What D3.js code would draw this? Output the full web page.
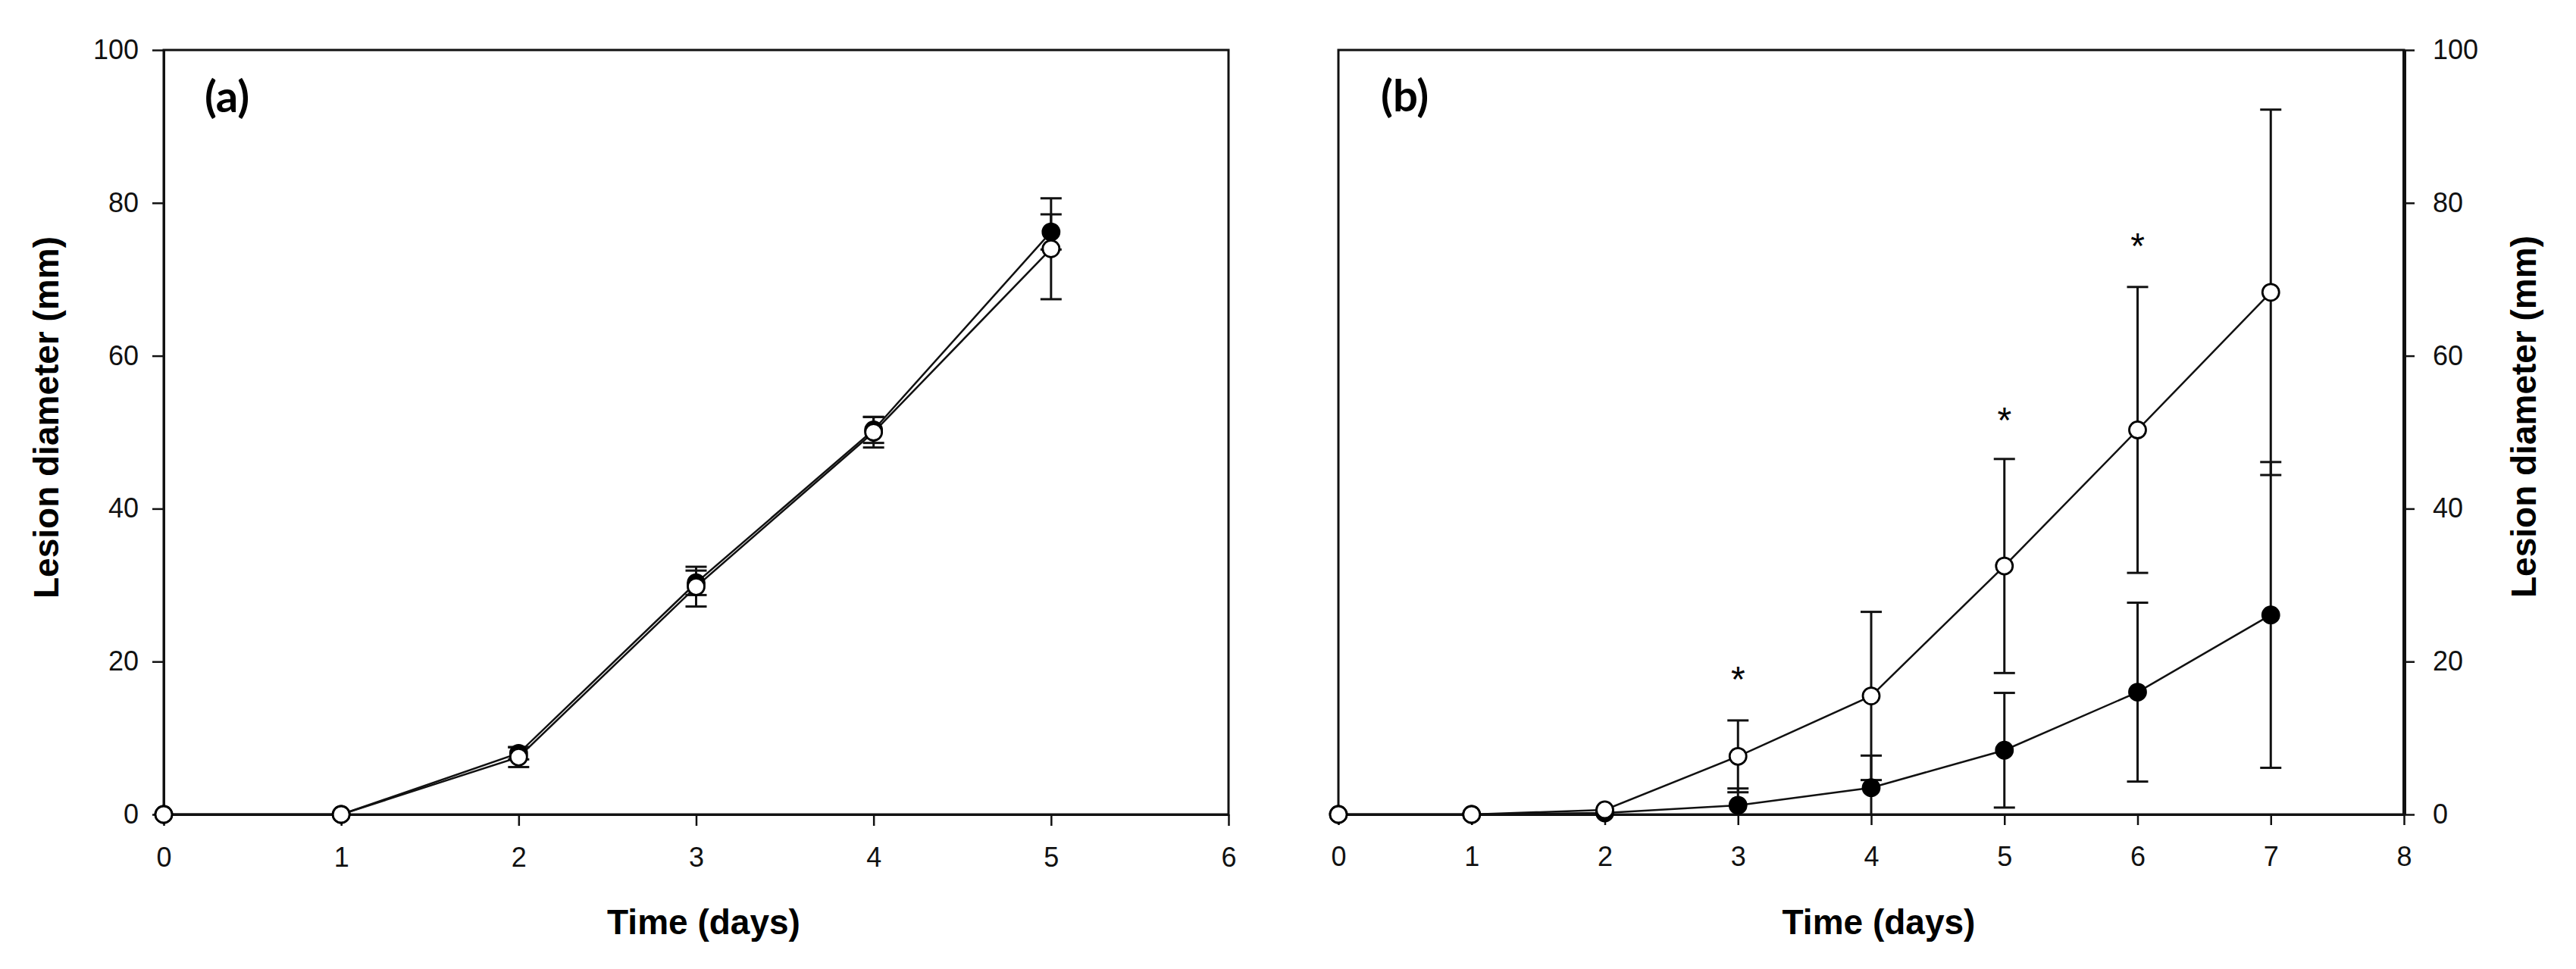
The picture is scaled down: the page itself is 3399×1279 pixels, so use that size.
<!DOCTYPE html>
<html lang="en">
<head>
  <meta charset="UTF-8">
  <title>Lesion diameter</title>
  <script src="https://d3js.org/d3.v7.min.js"></script>
  <style>
    body {
      margin: 0;
      background: #ffffff;
    }
    svg {
      display: block;
    }
    .tick text {
      font-family: 'Liberation Sans', Arial, sans-serif;
      font-size: 36px;
      fill: #111;
    }
    .title {
      font-family: 'Liberation Sans', Arial, sans-serif;
      font-weight: bold;
      font-size: 46px;
      fill: #000;
    }
    .panel-label {
      font-family: Lato, 'Open Sans', sans-serif;
      font-weight: bold;
      font-size: 58px;
      fill: #000;
    }
    .star {
      font-family: 'Liberation Sans', Arial, sans-serif;
      font-size: 48px;
      fill: #000;
    }
  </style>
</head>
<body>
  <svg id="chart" width="3399" height="1279"></svg>

  <script>
    // panel (a)
    const daysA = [0, 1, 2, 3, 4, 5];
    const filledA = [0, 0, 8.0, 30.3, 50.3, 76.2];
    const filledErrA = [0, 0, 0.8, 1.6, 1.7, 2.3];
    const openA = [0, 0, 7.5, 29.8, 50.0, 74.0];
    const openErrA = [0, 0, 1.3, 2.6, 2.0, 6.6];

    // panel (b)
    const daysB = [0, 1, 2, 3, 4, 5, 6, 7];
    const filledB = [0, 0, 0.2, 1.2, 3.5, 8.4, 16.0, 26.1];
    const filledErrB = [0, 0, 0, 2.2, 4.2, 7.5, 11.7, 20.0];
    const openB = [0, 0, 0.6, 7.6, 15.5, 32.5, 50.3, 68.3];
    const openErrB = [0, 0, 0, 4.7, 11.0, 14.0, 18.7, 23.9];

    // significance marks in panel (b)
    const starDays = [3, 5, 6];
    const starValues = [18.8, 52.7, 75.5];

    const ticksA = [0, 1, 2, 3, 4, 5, 6];
    const ticksB = [0, 1, 2, 3, 4, 5, 6, 7, 8];
    const ticksY = [0, 20, 40, 60, 80, 100];

    const svg = d3.select("#chart");
    const ink = "#111";
    const fmt = d3.format("d");

    const y = d3.scaleLinear().domain([0, 100]).range([1075, 66]);
    const xA = d3.scaleLinear().domain([0, 6]).range([216, 1621]);
    const xB = d3.scaleLinear().domain([0, 8]).range([1766, 3172]);

    function toPoints(days, vals, errs) {
      return days.map((d, i) => ({ day: d, v: vals[i], e: errs[i] }));
    }

    function drawFrame(x) {
      const [x0, x1] = x.range();
      const [y0, y1] = y.range();
      svg.append("rect")
        .attr("x", x0).attr("y", y1)
        .attr("width", x1 - x0).attr("height", y0 - y1)
        .attr("fill", "none")
        .attr("stroke", ink)
        .attr("stroke-width", 3);
    }

    function styleAxis(g) {
      g.select(".domain").attr("stroke", ink).attr("stroke-width", 3);
      g.selectAll(".tick line").attr("stroke", ink).attr("stroke-width", 2.5);
    }

    function drawSeries(x, pts) {
      const line = d3.line().x(d => x(d.day)).y(d => y(d.v));
      svg.append("path")
        .datum(pts)
        .attr("fill", "none")
        .attr("stroke", ink)
        .attr("stroke-width", 2.5)
        .attr("d", line);

      const bars = svg.append("g")
        .attr("stroke", ink)
        .attr("stroke-width", 3)
        .selectAll("g")
        .data(pts.filter(d => d.e > 0))
        .join("g");
      // bars stop at the x axis, as in the plot
      bars.append("line")
        .attr("x1", d => x(d.day)).attr("x2", d => x(d.day))
        .attr("y1", d => y(Math.max(0, d.v - d.e))).attr("y2", d => y(d.v + d.e));
      bars.append("line")
        .attr("x1", d => x(d.day) - 14).attr("x2", d => x(d.day) + 14)
        .attr("y1", d => y(d.v + d.e)).attr("y2", d => y(d.v + d.e));
      bars.filter(d => d.v - d.e > 0)
        .append("line")
        .attr("x1", d => x(d.day) - 14).attr("x2", d => x(d.day) + 14)
        .attr("y1", d => y(d.v - d.e)).attr("y2", d => y(d.v - d.e));
    }

    function drawMarkers(x, pts, filled) {
      svg.append("g")
        .selectAll("circle")
        .data(pts)
        .join("circle")
        .attr("cx", d => x(d.day))
        .attr("cy", d => y(d.v))
        .attr("r", 11)
        .attr("fill", filled ? "#000" : "#fff")
        .attr("stroke", "#000")
        .attr("stroke-width", 2.8);
    }

    // ---- panel (a)
    drawFrame(xA);
    svg.append("g")
      .attr("transform", `translate(0,${y(0)})`)
      .call(d3.axisBottom(xA).tickValues(ticksA).tickFormat(fmt)
        .tickSize(15).tickSizeOuter(0).tickPadding(28))
      .call(styleAxis);
    svg.append("g")
      .attr("transform", `translate(${xA(0)},0)`)
      .call(d3.axisLeft(y).tickValues(ticksY).tickFormat(fmt)
        .tickSize(15).tickSizeOuter(0).tickPadding(18))
      .call(styleAxis);

    const ptsFA = toPoints(daysA, filledA, filledErrA);
    const ptsOA = toPoints(daysA, openA, openErrA);
    drawSeries(xA, ptsFA);
    drawSeries(xA, ptsOA);
    drawMarkers(xA, ptsFA, true);
    drawMarkers(xA, ptsOA, false);

    svg.append("text").attr("class", "panel-label")
      .attr("x", 270).attr("y", 148).text("(a)");
    svg.append("text").attr("class", "title")
      .attr("text-anchor", "middle")
      .attr("x", (xA(0) + xA(6)) / 2 + 10).attr("y", 1233)
      .text("Time (days)");
    svg.append("text").attr("class", "title")
      .attr("text-anchor", "middle")
      .attr("transform", `translate(77,551) rotate(-90)`)
      .text("Lesion diameter (mm)");

    // ---- panel (b)
    drawFrame(xB);
    svg.append("g")
      .attr("transform", `translate(0,${y(0)})`)
      .call(d3.axisBottom(xB).tickValues(ticksB).tickFormat(fmt)
        .tickSize(14).tickSizeOuter(0).tickPadding(28))
      .call(styleAxis);
    svg.append("g")
      .attr("transform", `translate(${xB(8)},0)`)
      .call(d3.axisRight(y).tickValues(ticksY).tickFormat(fmt)
        .tickSize(14).tickSizeOuter(0).tickPadding(24))
      .call(styleAxis)
      .call(g => g.select(".domain").attr("stroke-width", 5));

    const ptsFB = toPoints(daysB, filledB, filledErrB);
    const ptsOB = toPoints(daysB, openB, openErrB);
    drawSeries(xB, ptsFB);
    drawSeries(xB, ptsOB);
    drawMarkers(xB, ptsFB, true);
    drawMarkers(xB, ptsOB, false);

    svg.append("g")
      .selectAll("text")
      .data(starDays.map((d, i) => ({ day: d, v: starValues[i] })))
      .join("text")
      .attr("class", "star")
      .attr("text-anchor", "middle")
      .attr("x", d => xB(d.day))
      .attr("y", d => y(d.v) + 28)
      .text("*");

    svg.append("text").attr("class", "panel-label")
      .attr("x", 1822).attr("y", 147).text("(b)");
    svg.append("text").attr("class", "title")
      .attr("text-anchor", "middle")
      .attr("x", (xB(0) + xB(8)) / 2 + 10).attr("y", 1233)
      .text("Time (days)");
    svg.append("text").attr("class", "title")
      .attr("text-anchor", "middle")
      .attr("transform", `translate(3346,550) rotate(-90)`)
      .text("Lesion diameter (mm)");
  </script>
</body>
</html>
